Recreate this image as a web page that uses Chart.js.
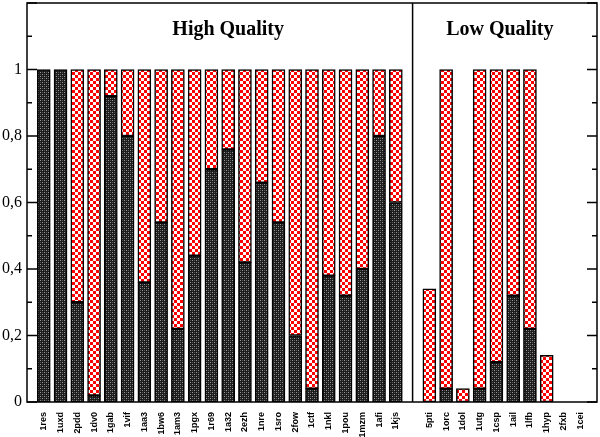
<!DOCTYPE html>
<html>
<head>
<meta charset="utf-8">
<script src="https://cdn.jsdelivr.net/npm/chart.js@4.4.1/dist/chart.umd.min.js"></script>
<style>
  html, body { margin: 0; padding: 0; background: #fff; }
  #wrap { width: 600px; height: 437px; }
</style>
</head>
<body>
<div id="wrap"><canvas id="chart"></canvas></div>
<script>
const highLabels = ['1res', '1uxd', '2pdd', '1dv0', '1gab', '1vif', '1aa3', '1bw6', '1am3', '1pgx', '1r69',
  '1a32', '2ezh', '1nre', '1sro', '2fow', '1ctf', '1nkl', '1pou', '1mzm', '1afi', '1kjs'];
const lowLabels = ['5pti', '1orc', '1dol', '1utg', '1csp', '1ail', '1lfb', '1hyp', '2fxb', '1cei'];

// dark (bottom) part and checkered (top) part of each bar
const highDark = [1, 1, 0.30, 0.02, 0.92, 0.80, 0.36, 0.54, 0.22, 0.44, 0.70,
  0.76, 0.42, 0.66, 0.54, 0.20, 0.04, 0.38, 0.32, 0.40, 0.80, 0.60];
const highRed = [0, 0, 0.70, 0.98, 0.08, 0.20, 0.64, 0.46, 0.78, 0.56, 0.30,
  0.24, 0.58, 0.34, 0.46, 0.80, 0.96, 0.62, 0.68, 0.60, 0.20, 0.40];
const lowDark = [0, 0.04, 0, 0.04, 0.12, 0.32, 0.22, 0, 0, 0];
const lowRed = [0.34, 0.96, 0.04, 0.96, 0.88, 0.68, 0.78, 0.14, 0, 0];

const yTicks = [0, 0.2, 0.4, 0.6, 0.8, 1];
const panelTitles = ['High Quality', 'Low Quality'];

// category slots: blank, high group, blank (separator), low group, blank
const labels = [''].concat(highLabels, [''], lowLabels, ['']);
const darkData = [null].concat(highDark, [null], lowDark, [null]);
const redData = [null].concat(highRed, [null], lowRed, [null]);
const sepIndex = highLabels.length + 1;

function checker() {
  const c = document.createElement('canvas');
  c.width = 6; c.height = 6;
  const g = c.getContext('2d');
  g.fillStyle = '#fff';
  g.fillRect(0, 0, 6, 6);
  g.fillStyle = '#f00';
  g.fillRect(0, 0, 3, 3);
  g.fillRect(3, 3, 3, 3);
  return g.createPattern(c, 'repeat');
}

function darkDots() {
  const c = document.createElement('canvas');
  c.width = 4; c.height = 4;
  const g = c.getContext('2d');
  g.fillStyle = '#1c1c1c';
  g.fillRect(0, 0, 4, 4);
  g.fillStyle = '#9a9a9a';
  g.fillRect(0, 0, 1, 1);
  g.fillRect(2, 2, 1, 1);
  g.fillStyle = '#555';
  g.fillRect(2, 0, 1, 1);
  g.fillRect(0, 2, 1, 1);
  return g.createPattern(c, 'repeat');
}

const framePlugin = {
  id: 'frame',
  afterDraw(chart) {
    const ctx = chart.ctx;
    const a = chart.chartArea;
    const x = chart.scales.x;
    const y = chart.scales.y;
    ctx.save();
    ctx.strokeStyle = '#000';
    ctx.lineWidth = 1.5;
    // inward ticks on both sides
    y.ticks.forEach((t) => {
      const py = y.getPixelForValue(t.value);
      const major = Math.abs(t.value * 5 - Math.round(t.value * 5)) < 1e-6;
      const len = major ? 10 : 5;
      ctx.beginPath();
      ctx.moveTo(a.left, py); ctx.lineTo(a.left + len, py);
      ctx.moveTo(a.right, py); ctx.lineTo(a.right - len, py);
      ctx.stroke();
    });
    ctx.strokeRect(a.left, a.top, a.right - a.left, a.bottom - a.top);
    // group separator
    const sx = x.getPixelForValue(sepIndex);
    ctx.beginPath();
    ctx.moveTo(sx, a.top); ctx.lineTo(sx, a.bottom);
    ctx.stroke();
    // panel titles
    ctx.fillStyle = '#000';
    ctx.font = 'bold 20px "Liberation Serif", serif';
    ctx.textAlign = 'center';
    ctx.textBaseline = 'middle';
    const step = x.getPixelForValue(1) - x.getPixelForValue(0);
    ctx.fillText(panelTitles[0], x.getPixelForValue(12), a.top + 27);
    ctx.fillText(panelTitles[1], x.getPixelForValue(28) + step * 0.2, a.top + 27);
    ctx.restore();
  },
};

const barCommon = {
  borderColor: '#000',
  borderWidth: 1.5,
  borderSkipped: false,
  barThickness: 13,
};

new Chart(document.getElementById('chart'), {
  type: 'bar',
  data: {
    labels,
    datasets: [
      Object.assign({ label: 'dark', data: darkData, backgroundColor: darkDots() }, barCommon),
      Object.assign({ label: 'red', data: redData, backgroundColor: checker() }, barCommon),
    ],
  },
  options: {
    responsive: true,
    maintainAspectRatio: false,
    animation: false,
    layout: { padding: { top: 3, right: 3, left: 0, bottom: 0 } },
    plugins: { legend: { display: false }, tooltip: { enabled: false } },
    scales: {
      x: {
        stacked: true,
        offset: false,
        grid: { display: false, drawTicks: false },
        border: { display: false },
        ticks: {
          autoSkip: false,
          maxRotation: 90,
          minRotation: 90,
          padding: 10,
          color: '#000',
          font: { family: 'Liberation Sans, Arial, sans-serif', size: 9, weight: 'bold' },
        },
        afterFit(s) {
          s.height = 35;
          s.paddingLeft = 0;
          s.paddingRight = 0;
        },
      },
      y: {
        stacked: true,
        min: 0,
        max: 1.2,
        grid: { display: false, drawTicks: false },
        border: { display: false },
        ticks: {
          stepSize: 0.1,
          padding: 5,
          color: '#000',
          font: { family: 'Liberation Serif, serif', size: 16 },
          callback(v) {
            const hit = yTicks.find((t) => Math.abs(t - v) < 1e-6);
            if (hit === undefined) return '';
            return String(hit).replace('.', ',');
          },
        },
        afterFit(s) {
          s.width = 27;
          s.paddingTop = 0;
          s.paddingBottom = 0;
        },
      },
    },
  },
  plugins: [framePlugin],
});
</script>
</body>
</html>
